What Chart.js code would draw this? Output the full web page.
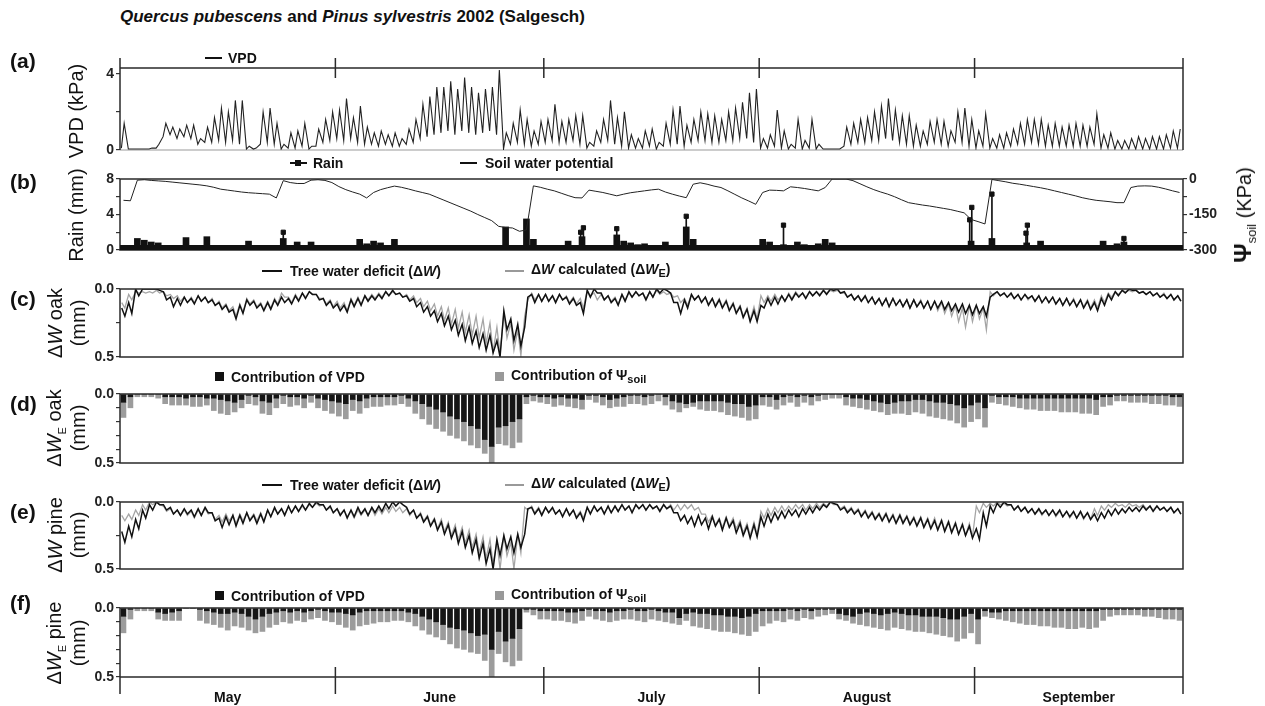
<!DOCTYPE html>
<html>
<head>
<meta charset="utf-8">
<script src="https://cdn.jsdelivr.net/npm/chart.js@4.4.1/dist/chart.umd.min.js"></script>
<style>
  body { margin: 0; background: #fff; width: 1265px; height: 706px; overflow: hidden; position: relative;
         font-family: "Liberation Sans", Arial, sans-serif; color: #111; }
  canvas { position: absolute; left: 0; }
  .t { position: absolute; white-space: nowrap; font-weight: bold; z-index: 2; }
  .lg { position: absolute; font-size: 14px; font-weight: bold; line-height: 16px; transform: translateY(-50%); white-space: nowrap; z-index: 2; }
  .ln { position: absolute; height: 2px; z-index: 2; }
  .sq { position: absolute; width: 9px; height: 9px; z-index: 2; }
  .yt { position: absolute; font-size: 20px; white-space: nowrap; transform: translate(-50%, -50%) rotate(-90deg); z-index: 2; }
  sub { font-size: 11px; }
</style>
</head>
<body>
<canvas id="ca" width="1265" height="106" style="top:56px"></canvas>
<canvas id="cb" width="1265" height="95" style="top:167px"></canvas>
<canvas id="cc" width="1265" height="92" style="top:277px"></canvas>
<canvas id="cd" width="1265" height="93" style="top:382px"></canvas>
<canvas id="ce" width="1265" height="91" style="top:490px"></canvas>
<canvas id="cf" width="1265" height="116" style="top:596px"></canvas>

<div class="t" style="left:120px;top:7px;font-size:17px"><i>Quercus pubescens</i> and <i>Pinus sylvestris</i> 2002 (Salgesch)</div>

<div class="t" style="left:10px;top:49px;font-size:21px">(a)</div>
<div class="t" style="left:10px;top:170px;font-size:21px">(b)</div>
<div class="t" style="left:10px;top:287px;font-size:21px">(c)</div>
<div class="t" style="left:10px;top:392px;font-size:21px">(d)</div>
<div class="t" style="left:10px;top:500px;font-size:21px">(e)</div>
<div class="t" style="left:10px;top:591px;font-size:21px">(f)</div>

<div class="yt" style="left:76px;top:111px">VPD (kPa)</div>
<div class="yt" style="left:76px;top:215px">Rain (mm)</div>
<div class="yt" style="left:55px;top:323px">Δ<i>W</i> oak</div>
<div class="yt" style="left:78px;top:323px">(mm)</div>
<div class="yt" style="left:55px;top:428px">Δ<i>W</i><sub>E</sub> oak</div>
<div class="yt" style="left:78px;top:428px">(mm)</div>
<div class="yt" style="left:55px;top:535px">Δ<i>W</i> pine</div>
<div class="yt" style="left:78px;top:535px">(mm)</div>
<div class="yt" style="left:55px;top:643px">Δ<i>W</i><sub>E</sub> pine</div>
<div class="yt" style="left:78px;top:643px">(mm)</div>
<div class="yt" style="left:1244px;top:215px"><b style="font-size:24px">Ψ</b><sub style="font-size:13px">soil</sub> (KPa)</div>

<!-- legends -->
<div class="ln" style="left:205px;top:57px;width:17px;background:#111"></div>
<div class="lg" style="left:228px;top:58px">VPD</div>

<div class="ln" style="left:290px;top:162px;width:17px;background:#111"></div>
<div class="sq" style="left:295px;top:160px;width:6px;height:6px;background:#111"></div>
<div class="lg" style="left:313px;top:163px">Rain</div>
<div class="ln" style="left:460px;top:162px;width:17px;background:#111"></div>
<div class="lg" style="left:485px;top:163px">Soil water potential</div>

<div class="ln" style="left:262px;top:270px;width:20px;background:#111"></div>
<div class="lg" style="left:290px;top:271px">Tree water deficit (Δ<i>W</i>)</div>
<div class="ln" style="left:505px;top:270px;width:19px;background:#999"></div>
<div class="lg" style="left:531px;top:271px">Δ<i>W</i> calculated (Δ<i>W</i><sub>E</sub>)</div>

<div class="sq" style="left:215px;top:372px;background:#111"></div>
<div class="lg" style="left:231px;top:377px">Contribution of VPD</div>
<div class="sq" style="left:495px;top:372px;background:#999"></div>
<div class="lg" style="left:511px;top:377px">Contribution of Ψ<sub>soil</sub></div>

<div class="ln" style="left:262px;top:484px;width:20px;background:#111"></div>
<div class="lg" style="left:290px;top:485px">Tree water deficit (Δ<i>W</i>)</div>
<div class="ln" style="left:505px;top:484px;width:19px;background:#999"></div>
<div class="lg" style="left:531px;top:485px">Δ<i>W</i> calculated (Δ<i>W</i><sub>E</sub>)</div>

<div class="sq" style="left:215px;top:591px;background:#111"></div>
<div class="lg" style="left:231px;top:596px">Contribution of VPD</div>
<div class="sq" style="left:495px;top:591px;background:#999"></div>
<div class="lg" style="left:511px;top:596px">Contribution of Ψ<sub>soil</sub></div>

<script>
// day 0 = 1 May 2002, day 153 = 1 October
const DAYS = 153;
const monthStarts = [0, 31, 61, 92, 123, 153];
const monthMid = [15.5, 46, 76.5, 107.5, 138];
const monthNames = ['May', 'June', 'July', 'August', 'September'];

// (a) VPD, kPa: afternoon peak and early-morning low of each day
const vpdPeak = [
  1.4,0.05,0.05,0.05,0.1,0.3,1.4,1.2,1.1,1.3,1.3,0.6,1.2,1.7,2.2,2.0,2.6,2.6,0.2,0.1,2.0,2.2,1.4,0.3,0.9,1.0,1.4,0.2,1.1,1.6,2.0,
  2.1,2.7,1.7,2.3,1.2,0.9,1.0,0.8,0.9,0.6,1.1,1.6,2.4,2.8,3.3,3.3,3.6,3.2,3.8,3.3,3.0,3.2,3.3,4.2,0.9,1.4,2.1,1.6,1.0,1.5,
  1.6,2.4,1.5,1.6,1.8,1.8,0.4,1.0,1.6,2.6,1.7,2.0,0.8,0.6,1.0,1.1,0.4,1.4,2.1,2.3,1.3,1.6,2.0,1.9,1.8,1.6,2.0,2.2,2.5,3.0,3.2,
  0.6,0.8,2.1,1.0,0.3,1.6,0.5,1.6,0.3,0.05,0.05,0.05,1.2,1.4,1.6,1.7,2.0,2.3,2.7,2.1,1.8,1.8,1.3,1.0,1.5,1.6,1.5,1.0,2.0,2.2,1.6,
  1.0,1.9,0.6,0.8,0.9,1.1,1.4,1.6,1.6,1.6,1.3,1.4,1.2,1.3,1.4,1.3,1.2,1.9,0.8,0.9,0.5,0.5,0.6,0.7,0.6,0.7,0.7,0.8,1.0,1.1
];
const vpdLow = [
  0.1,0.05,0.05,0.05,0.05,0.1,0.7,0.8,0.6,0.7,0.6,0.3,0.4,0.4,0.5,0.4,0.5,0.3,0.05,0.05,0.3,0.4,0.3,0.05,0.1,0.1,0.2,0.05,0.2,0.4,0.5,
  0.6,0.5,0.6,0.4,0.3,0.3,0.2,0.3,0.2,0.2,0.3,0.4,0.6,0.7,0.8,0.9,1.0,0.8,1.0,0.9,0.8,0.9,1.0,0.8,0.05,0.3,0.4,0.3,0.2,0.3,
  0.4,0.5,0.4,0.4,0.5,0.3,0.1,0.2,0.4,0.5,0.3,0.2,0.1,0.1,0.1,0.2,0.05,0.2,0.3,0.3,0.2,0.4,0.5,0.5,0.4,0.4,0.5,0.5,0.6,0.6,0.4,
  0.1,0.1,0.2,0.1,0.05,0.1,0.05,0.1,0.05,0.05,0.05,0.05,0.2,0.3,0.4,0.4,0.5,0.5,0.6,0.5,0.4,0.3,0.2,0.2,0.3,0.4,0.3,0.2,0.4,0.4,0.2,
  0.1,0.2,0.1,0.1,0.1,0.2,0.3,0.3,0.4,0.3,0.2,0.2,0.2,0.2,0.2,0.2,0.2,0.3,0.1,0.1,0.05,0.05,0.05,0.05,0.05,0.05,0.05,0.05,0.1,0.1
];

// (b) soil water potential, kPa (daily)
const soilKpa = [
  -90,-92,-5,-3,-6,-8,-10,-13,-16,-19,-22,-25,-29,-35,-43,-47,-51,-55,-58,-60,-62,-64,-80,-7,-15,-19,-19,-5,-3,-6,-15,
  -32,-45,-55,-64,-80,-57,-45,-37,-30,-35,-42,-50,-57,-64,-76,-88,-100,-112,-124,-136,-150,-163,-176,-200,-205,-207,-221,-215,-29,-35,
  -43,-50,-60,-70,-79,-80,-47,-52,-57,-64,-71,-64,-58,-54,-50,-46,-43,-55,-64,-72,-79,-22,-16,-22,-30,-36,-50,-65,-80,-93,-107,
  -57,-47,-48,-50,-33,-36,-40,-45,-50,-36,0,0,0,-7,-20,-33,-45,-55,-64,-75,-88,-100,-105,-110,-114,-119,-124,-129,-136,-143,-171,
  -180,-190,-2,-7,-12,-18,-22,-27,-32,-37,-43,-50,-57,-64,-71,-79,-85,-90,-93,-96,-100,-100,-36,-30,-29,-30,-35,-42,-50,-57
];
// rain, mm: daily blocks and isolated high readings
const rainDay = [2,3,4,5,9,12,18,23,25,27,34,35,36,37,39,41,55,58,59,64,66,71,72,73,74,75,76,78,81,82,92,93,95,97,98,100,101,102,110,113,117,122,125,130,132,141,143,144,149];
const rainMm  = [1.3,1.1,0.9,0.8,1.4,1.5,1.0,1.3,0.9,0.9,1.2,0.7,1.0,0.8,1.2,0.4,2.6,3.5,1.2,1.0,1.5,1.7,1.0,0.8,0.6,0.7,0.5,0.9,2.6,1.2,1.2,0.9,0.6,0.9,0.6,0.7,1.2,0.8,0.5,0.4,0.3,1.0,1.3,0.8,1.0,1.0,0.7,0.9,0.4];
const rainPeakDay = [23.5,66.3,66.7,71.5,81.5,95.5,122.3,122.6,125.5,130.4,130.6,144.5];
const rainPeakMm  = [2.0,2.0,2.5,2.4,3.8,2.8,3.4,4.8,6.3,1.9,2.8,1.3];

// (c) oak tree water deficit, 0.01 mm: afternoon (max) and night (min)
const oakDay = [
  20,18,5,0,0,1,8,13,12,10,11,9,10,12,15,17,22,18,12,14,16,15,12,10,11,9,7,4,8,12,14,
  16,17,13,12,9,8,7,5,4,6,9,13,17,20,24,27,30,34,38,40,43,45,47,50,30,38,42,6,10,9,
  9,10,8,11,12,18,6,3,8,10,12,9,6,5,8,6,3,1,10,18,14,8,10,12,13,14,16,18,21,24,24,
  14,12,11,9,8,6,7,5,5,4,1,3,6,8,9,10,11,12,13,12,13,14,13,14,15,14,15,16,17,18,19,
  18,20,4,5,6,7,8,7,9,10,10,11,12,12,13,14,15,16,12,8,5,3,1,3,4,5,6,7,8,9
];
const oakNight = [
  14,10,0,0,0,0,2,6,7,6,7,5,6,8,10,12,15,12,8,9,11,10,8,6,7,5,3,2,4,7,9,
  11,12,8,7,5,5,4,2,1,3,5,7,10,13,16,18,20,23,26,28,31,33,34,38,16,22,26,28,4,4,
  4,5,4,6,7,10,1,0,3,5,7,4,2,2,3,2,0,0,3,10,8,4,5,6,7,8,9,11,13,15,16,
  12,7,6,5,4,3,3,2,2,1,0,0,2,4,5,5,6,7,7,7,8,8,8,9,9,9,9,10,11,11,12,
  12,13,6,2,3,3,4,4,5,5,6,6,7,7,8,8,9,10,7,4,2,1,0,1,2,2,3,4,4,5
];
const oakCalcDay = [
  14,8,3,3,3,3,5,7,9,10,10,9,10,12,14,16,20,17,11,13,15,14,11,6,10,8,6,4,7,11,13,
  14,16,12,11,8,7,6,5,4,6,8,10,13,16,20,23,26,29,32,34,36,40,46,48,36,45,49,8,8,9,
  9,9,8,10,11,14,5,8,8,9,11,8,6,5,7,6,4,4,6,10,12,8,9,11,12,13,15,17,20,23,22,
  10,9,8,9,7,5,6,5,4,3,2,3,6,8,9,10,11,12,13,12,13,14,13,14,15,16,18,20,24,28,24,
  22,30,5,5,6,7,8,8,9,10,10,11,12,12,13,13,14,14,10,6,4,2,2,3,4,5,6,7,8,9
];
const oakCalcNight = [
  10,4,2,2,2,1,2,4,5,6,6,5,6,7,9,11,13,11,7,8,10,9,7,3,6,4,3,2,4,7,8,
  9,10,7,6,5,4,3,2,2,3,4,5,7,9,11,13,14,15,17,19,20,22,25,28,18,25,30,20,3,4,
  4,5,4,5,6,7,1,3,4,5,6,4,3,2,3,2,1,2,3,5,7,4,5,6,7,7,8,10,12,14,13,
  5,5,4,5,3,2,3,2,2,1,1,1,3,4,5,6,6,7,7,7,8,8,8,8,9,9,10,11,12,14,12,
  12,14,2,2,3,4,4,4,5,5,6,6,7,7,7,8,8,8,5,3,2,1,1,1,2,2,3,3,4,5
];

// (d) oak calculated deficit per day, 0.01 mm: total and VPD part
const oakTotal = [
  17,10,2,2,2,3,7,8,8,8,9,9,8,12,14,15,13,10,7,8,14,15,10,7,9,8,10,6,10,12,14,
  16,18,12,14,10,9,9,8,8,7,9,14,18,22,25,27,30,32,34,37,39,43,50,36,37,39,35,7,5,6,
  7,9,8,9,10,11,4,6,8,10,9,9,7,7,8,7,5,8,11,13,10,9,11,12,12,13,15,16,17,19,18,
  8,9,11,8,6,9,6,8,5,4,3,3,8,9,10,11,12,13,15,14,14,15,13,14,16,17,18,19,21,24,20,
  18,24,6,7,8,9,10,11,11,12,12,12,13,13,13,14,14,15,9,8,5,5,6,6,6,7,7,8,8,9
];
const oakVpd = [
  6,2,0,0,0,0,2,2,2,3,2,2,3,3,4,5,6,4,1,2,5,6,3,1,2,2,3,1,3,4,5,
  6,7,4,5,3,2,2,2,2,1,3,5,7,9,11,13,16,18,20,23,25,33,38,24,23,20,18,2,1,2,
  2,3,2,3,3,4,1,1,2,4,3,2,1,1,2,1,0,2,5,6,7,6,5,5,5,5,6,7,7,9,8,
  2,2,4,2,1,2,1,2,1,0,0,0,2,3,3,4,5,6,7,6,5,5,4,4,5,6,6,7,8,10,8,
  6,10,1,2,2,2,3,3,3,3,3,3,3,3,3,3,3,4,2,2,1,1,1,1,1,1,1,1,2,2
];

// (e) pine tree water deficit, 0.01 mm
const pineDay = [
  30,26,20,12,6,2,6,9,10,9,11,10,8,14,19,17,18,16,14,16,15,11,9,10,8,7,6,4,2,6,8,
  10,12,11,9,10,8,7,5,3,2,9,12,15,18,21,24,27,31,34,38,42,46,50,40,35,38,34,5,9,10,
  8,9,11,10,12,14,9,7,9,8,7,6,8,5,6,5,7,5,8,14,16,18,17,20,18,21,19,23,25,27,26,
  18,15,13,12,10,11,9,8,6,4,1,6,8,9,11,12,13,14,15,16,16,17,18,19,20,21,22,23,24,25,27,
  28,18,8,4,2,6,7,8,9,9,10,10,11,11,12,12,13,14,12,10,9,8,7,7,6,7,6,7,8,9
];
const pineNight = [
  22,18,13,6,2,0,2,4,6,5,6,5,4,8,12,11,10,10,8,10,9,6,4,5,3,3,2,1,0,2,3,
  5,6,6,4,5,4,3,1,0,0,4,6,9,11,13,15,17,20,22,25,28,31,35,28,25,26,24,24,4,5,
  4,4,6,5,6,8,4,3,4,3,3,2,3,2,2,2,3,2,3,8,10,11,10,12,11,13,12,14,16,18,17,
  11,9,8,7,6,6,5,4,3,2,0,2,4,5,6,7,8,9,9,10,10,11,12,12,13,14,14,15,16,17,18,
  20,8,3,1,0,2,3,4,5,5,6,6,6,7,7,7,8,9,8,6,5,5,4,4,3,3,3,4,4,5
];
const pineCalcDay = [
  14,13,10,6,2,2,7,9,10,10,12,10,9,13,15,14,16,14,13,14,14,11,9,9,8,7,6,4,3,6,8,
  9,11,12,10,10,10,9,8,7,8,10,12,14,17,20,22,25,28,31,34,38,42,46,50,40,50,38,6,8,9,
  8,9,10,10,11,12,8,7,8,8,7,6,7,5,6,5,6,5,6,6,5,6,9,15,17,19,18,20,23,25,24,
  12,10,8,7,6,5,6,5,4,3,2,5,7,8,10,11,12,13,14,15,15,16,17,18,19,20,21,22,24,25,26,
  8,4,3,2,3,6,7,8,9,10,10,11,11,12,12,13,13,10,6,4,3,4,3,4,5,6,6,7,8,9
];
const pineCalcNight = [
  10,9,6,2,0,0,3,5,6,6,7,6,5,8,10,9,10,9,8,9,8,6,5,5,4,3,3,2,1,2,4,
  5,6,7,6,6,5,5,4,3,4,5,6,8,10,12,13,15,17,19,21,24,26,28,30,25,30,24,4,3,4,
  4,5,6,5,6,7,4,3,4,4,3,2,3,2,2,2,3,2,2,2,2,2,4,9,10,12,11,12,14,16,15,
  7,5,4,3,3,2,2,2,1,1,0,2,3,4,5,6,7,8,8,9,9,10,11,11,12,12,13,14,15,16,16,
  3,1,1,0,1,2,3,4,5,6,6,6,7,7,8,8,8,5,3,2,1,2,1,2,2,3,3,4,4,5
];

// (f) pine calculated deficit per day, 0.01 mm
const pineTotal = [
  18,8,2,2,2,8,9,9,9,0,0,9,11,12,14,16,13,14,16,18,17,14,12,10,11,9,10,8,7,9,10,
  12,14,16,13,12,11,10,10,9,9,10,13,16,19,21,23,26,29,30,32,33,38,50,33,39,42,38,3,5,8,
  8,9,9,10,11,9,6,8,9,10,9,8,8,9,10,8,9,10,11,12,9,13,14,15,16,17,17,18,19,20,17,
  13,11,9,10,8,9,7,8,6,5,4,8,9,11,12,13,14,15,16,14,15,16,17,17,18,19,20,21,24,22,18,
  26,6,7,8,9,10,11,12,12,13,13,14,14,15,15,14,15,14,9,6,5,5,5,5,6,6,7,8,8,9
];
const pineVpd = [
  6,1,0,0,0,3,4,3,2,0,0,1,2,3,4,4,3,4,6,8,6,4,3,2,3,2,3,2,1,2,3,
  3,4,5,3,2,2,2,2,2,2,3,4,6,8,10,12,14,15,16,18,20,19,30,17,24,22,15,1,1,2,
  2,2,2,3,3,2,1,2,2,3,2,2,1,2,2,1,2,3,3,7,4,3,4,4,5,5,6,6,7,6,4,
  2,2,2,2,1,2,1,2,1,1,1,4,5,6,4,3,4,5,4,3,4,5,5,6,6,6,7,8,8,6,4,
  8,2,3,3,2,2,2,2,2,2,2,2,2,2,2,2,2,2,1,1,1,1,1,1,1,1,1,1,1,1
];

Chart.defaults.font.family = '"Liberation Sans", Arial, sans-serif';
Chart.defaults.animation = false;
Chart.defaults.events = [];
Chart.defaults.plugins.legend.display = false;
Chart.defaults.plugins.tooltip.enabled = false;

const tickFont = { size: 14, weight: 'bold' };

// two readings per day: low/night point and afternoon point
function cycle(night, day, k, tNight, tDay) {
  const pts = [];
  night.forEach((v, i) => {
    pts.push({ x: i + tNight, y: v * k });
    pts.push({ x: i + tDay, y: day[i] * k });
  });
  return pts;
}

function yAxis(min, max, ticks, labels, reverse, pos) {
  return {
    type: 'linear', position: pos || 'left', min, max, reverse: !!reverse,
    afterBuildTicks: s => { s.ticks = ticks.map(v => ({ value: v })); },
    afterFit: s => { s.width = pos === 'right' ? 82 : 120; },
    ticks: { autoSkip: false, callback: v => labels[ticks.indexOf(v)] || '', font: tickFont, color: '#222', padding: 2 },
    grid: { drawOnChartArea: false, drawTicks: true, tickLength: 4, color: '#333', lineWidth: 1.2 },
    border: { display: false }
  };
}

function xAxis(showMonths) {
  const ax = { type: 'linear', min: 0, max: DAYS, offset: false, display: showMonths,
               grid: { display: false }, border: { display: false } };
  if (showMonths) {
    ax.afterBuildTicks = s => { s.ticks = monthMid.map(v => ({ value: v })); };
    ax.afterFit = s => { s.height = 35; };
    ax.ticks = { autoSkip: false, maxRotation: 0, padding: 5, font: tickFont, color: '#111',
                 callback: v => monthNames[monthMid.indexOf(v)] };
  }
  return ax;
}

const frame = {
  id: 'frame',
  beforeDatasetsDraw(chart, args, o) {
    if (o.kind !== 'a') return;
    const { ctx, chartArea: a } = chart;
    ctx.save();
    ctx.strokeStyle = '#999';
    ctx.lineWidth = 1;
    ctx.beginPath();
    ctx.moveTo(a.left, a.bottom);
    ctx.lineTo(a.right, a.bottom);
    ctx.stroke();
    ctx.restore();
  },
  afterDatasetsDraw(chart, args, o) {
    const { ctx, chartArea: a, scales: { x } } = chart;
    ctx.save();
    ctx.strokeStyle = '#2a2a2a';
    ctx.lineWidth = 1.5;
    ctx.beginPath();
    if (o.kind === 'a') {
      ctx.moveTo(a.left, a.top);
      ctx.lineTo(a.right, a.top);
      monthStarts.forEach(d => {
        const px = x.getPixelForValue(d);
        ctx.moveTo(px, a.top - 10);
        ctx.lineTo(px, (d === 0 || d === DAYS) ? a.bottom : a.top + 10);
      });
    } else {
      ctx.rect(a.left, a.top, a.right - a.left, a.bottom - a.top);
    }
    if (o.kind === 'f') {
      monthStarts.forEach(d => {
        const px = x.getPixelForValue(d);
        ctx.moveTo(px, (d === 0 || d === DAYS) ? a.bottom : a.bottom - 10);
        ctx.lineTo(px, a.bottom + 17);
      });
    }
    ctx.stroke();
    if (o.kind === 'b') {
      ctx.fillStyle = '#111';
      ctx.fillRect(a.left, a.bottom - 5, a.right - a.left, 5);
    }
    ctx.restore();
  }
};

function makeChart(id, type, kind, datasets, yScales) {
  const scales = Object.assign({ x: xAxis(kind === 'f') }, yScales);
  return new Chart(document.getElementById(id), {
    type,
    data: { datasets },
    options: {
      responsive: false, devicePixelRatio: 1,
      layout: { padding: { top: 12, bottom: kind === 'f' ? 0 : 12, left: 0, right: scales.y1 ? 0 : 82 } },
      scales,
      plugins: { frame: { kind } }
    },
    plugins: [frame]
  });
}

const lineStyle = (color, width) => ({ type: 'line', borderColor: color, borderWidth: width, pointRadius: 0, tension: 0, fill: false });

// (a)
makeChart('ca', 'line', 'a', [
  Object.assign(lineStyle('#222', 1.1), { data: cycle(vpdLow, vpdPeak, 1, 0.2, 0.6) })
], { y: yAxis(0, 4.3, [0, 2, 4], ['0', '', '4']) });

// (b)
makeChart('cb', 'bar', 'b', [
  Object.assign(lineStyle('#222', 1), { yAxisID: 'y1', data: soilKpa.map((v, i) => ({ x: i + 0.5, y: v })) }),
  { type: 'line', yAxisID: 'y', showLine: false, pointStyle: 'rect', pointRadius: 3,
    backgroundColor: '#111', borderColor: '#111', data: rainPeakDay.map((d, i) => ({ x: d, y: rainPeakMm[i] })) },
  { type: 'bar', yAxisID: 'y', grouped: false, barThickness: 1, backgroundColor: '#111',
    data: rainPeakDay.map((d, i) => ({ x: d, y: [0, rainPeakMm[i]] })) },
  { type: 'bar', yAxisID: 'y', grouped: false, barThickness: 6, backgroundColor: '#111',
    data: rainDay.map((d, i) => ({ x: d + 0.5, y: rainMm[i] })) }
], {
  y: yAxis(0, 8, [0, 2, 4, 6, 8], ['0', '', '4', '', '8']),
  y1: yAxis(-300, 0, [-300, -225, -150, -75, 0], ['-300', '', '-150', '', '0'], false, 'right')
});

// (c) and (e)
function deficitChart(id, kind, day, night, calcDay, calcNight) {
  makeChart(id, 'line', kind, [
    Object.assign(lineStyle('#111', 1.5), { data: cycle(night, day, 0.01, 0.25, 0.7) }),
    Object.assign(lineStyle('#a5a5a5', 1.3), { data: cycle(calcNight, calcDay, 0.01, 0.25, 0.7) })
  ], { y: yAxis(0, 0.5, [0, 0.25, 0.5], ['0.0', '', '0.5'], true) });
}

// (d) and (f)
function contribChart(id, kind, total, vpd) {
  makeChart(id, 'bar', kind, [
    { grouped: false, barThickness: 5, backgroundColor: '#151515',
      data: vpd.map((v, i) => ({ x: i + 0.5, y: [0, v / 100] })) },
    { grouped: false, barThickness: 5, backgroundColor: '#9c9c9c',
      data: total.map((v, i) => ({ x: i + 0.5, y: [vpd[i] / 100, v / 100] })) }
  ], { y: yAxis(0, 0.5, [0, 0.1, 0.2, 0.3, 0.4, 0.5], ['0.0', '', '', '', '', '0.5'], true) });
}

deficitChart('cc', 'c', oakDay, oakNight, oakCalcDay, oakCalcNight);
contribChart('cd', 'd', oakTotal, oakVpd);
deficitChart('ce', 'e', pineDay, pineNight, pineCalcDay, pineCalcNight);
contribChart('cf', 'f', pineTotal, pineVpd);
</script>
</body>
</html>
